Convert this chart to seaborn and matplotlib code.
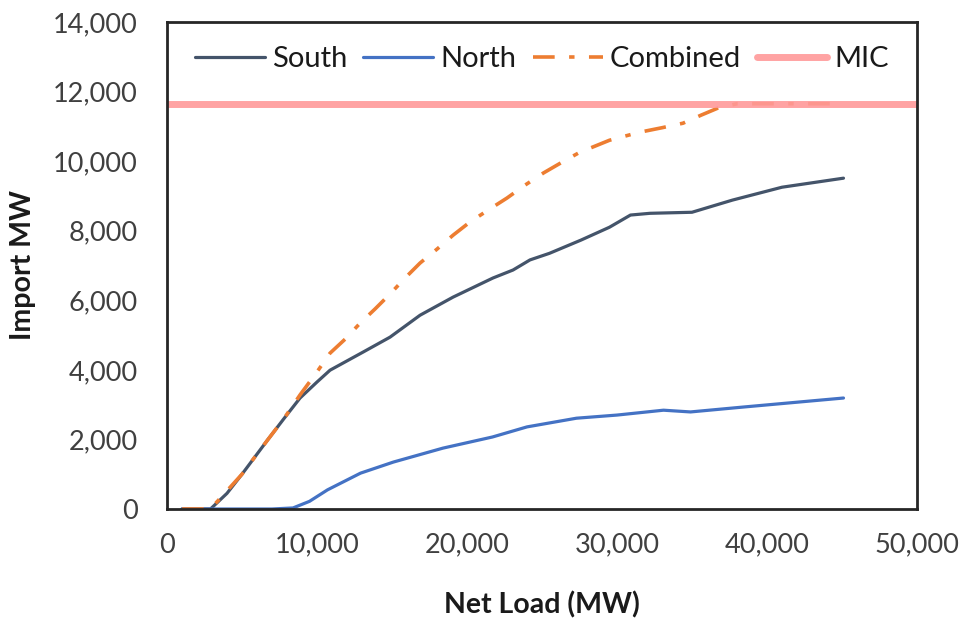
import matplotlib
matplotlib.use("Agg")
import matplotlib.pyplot as plt
import pandas as pd
import seaborn as sns
from matplotlib.ticker import FuncFormatter, MultipleLocator

# values
south_load = [1000, 2000, 2900, 4000, 5000, 6700, 7800, 8870, 10000, 10870, 13070, 14870,
              16870, 19070, 21730, 23070, 24200, 25500, 27600, 29500, 30900, 32200, 35000,
              37700, 41000, 45100]
south_mw = [0, 0, 0, 450, 1000, 1980, 2600, 3190, 3650, 3990, 4510, 4940,
            5570, 6090, 6640, 6870, 7160, 7350, 7730, 8100, 8450, 8500, 8530,
            8880, 9250, 9510]

north_load = [1000, 4000, 7000, 8400, 9500, 10700, 12900, 15100, 18400, 21700, 24000,
              27300, 30000, 33100, 34900, 38400, 45100]
north_mw = [0, 0, 0, 30, 220, 550, 1030, 1350, 1750, 2070, 2360,
            2610, 2700, 2840, 2790, 2930, 3190]

combined_load = [1000, 2900, 5000, 6700, 7800, 8870, 10000, 10870, 11870, 12870, 13870,
                 14870, 15870, 16870, 18000, 19070, 20200, 21400, 22670, 23870, 25100,
                 26300, 27500, 29500, 31500, 33000, 34400, 35600, 36700, 38000, 41000, 45000]
combined_mw = [0, 0, 1000, 1980, 2600, 3280, 3940, 4480, 4880, 5340, 5750,
               6180, 6640, 7070, 7470, 7870, 8250, 8590, 8940, 9310, 9660,
               9960, 10250, 10600, 10830, 10960, 11090, 11320, 11520, 11650, 11650, 11650]

mic_mw = 11650


def main():
    sns.set_theme(style="white")
    plt.rcParams['font.family'] = ['Lato', 'DejaVu Sans']

    df = pd.concat([
        pd.DataFrame({"load": south_load, "mw": south_mw, "series": "South"}),
        pd.DataFrame({"load": north_load, "mw": north_mw, "series": "North"}),
        pd.DataFrame({"load": combined_load, "mw": combined_mw, "series": "Combined"}),
    ])

    fig = plt.figure(figsize=(9.72, 6.28), dpi=100)
    ax = fig.add_axes([0.1718, 0.1895, 0.7716, 0.7755])

    colors = {"South": "#44546A", "North": "#4472C4", "Combined": "#ED7D31"}
    widths = {"South": 2.3, "North": 2.3, "Combined": 2.6}
    for name in ["South", "North", "Combined"]:
        sub = df[df["series"] == name]
        sns.lineplot(data=sub, x="load", y="mw", ax=ax, color=colors[name],
                     lw=widths[name], label=name, sort=True)
    ax.lines[2].set_dashes([6, 4, 1.5, 4])

    ax.axhline(mic_mw, color="#FF9999", lw=5, alpha=0.9, label="MIC")

    ax.set_xlim(0, 50000)
    ax.set_ylim(0, 14000)
    ax.xaxis.set_major_locator(MultipleLocator(10000))
    ax.yaxis.set_major_locator(MultipleLocator(2000))
    fmt = FuncFormatter(lambda v, p: f"{int(v):,}")
    ax.xaxis.set_major_formatter(fmt)
    ax.yaxis.set_major_formatter(fmt)
    ax.tick_params(axis="both", length=0, labelsize=19.5, colors="#404040")
    ax.tick_params(axis="x", pad=17)
    ax.tick_params(axis="y", pad=21)

    ax.set_xlabel("Net Load (MW)", fontsize=20.5, fontweight="bold", labelpad=24,
                  color="#1a1a1a")
    ax.set_ylabel("Import MW", fontsize=20.5, fontweight="bold", labelpad=12,
                  color="#1a1a1a")

    for sp in ax.spines.values():
        sp.set_visible(True)
        sp.set_color("#262626")
        sp.set_linewidth(2)

    ax.legend(loc="upper center", bbox_to_anchor=(0.5, 1.005), ncol=4, frameon=False,
              fontsize=21, handlelength=2.4, columnspacing=0.55, handletextpad=0.25,
              labelcolor="#1a1a1a")

    fig.savefig("out.png", dpi=100)


if __name__ == '__main__':
    main()
